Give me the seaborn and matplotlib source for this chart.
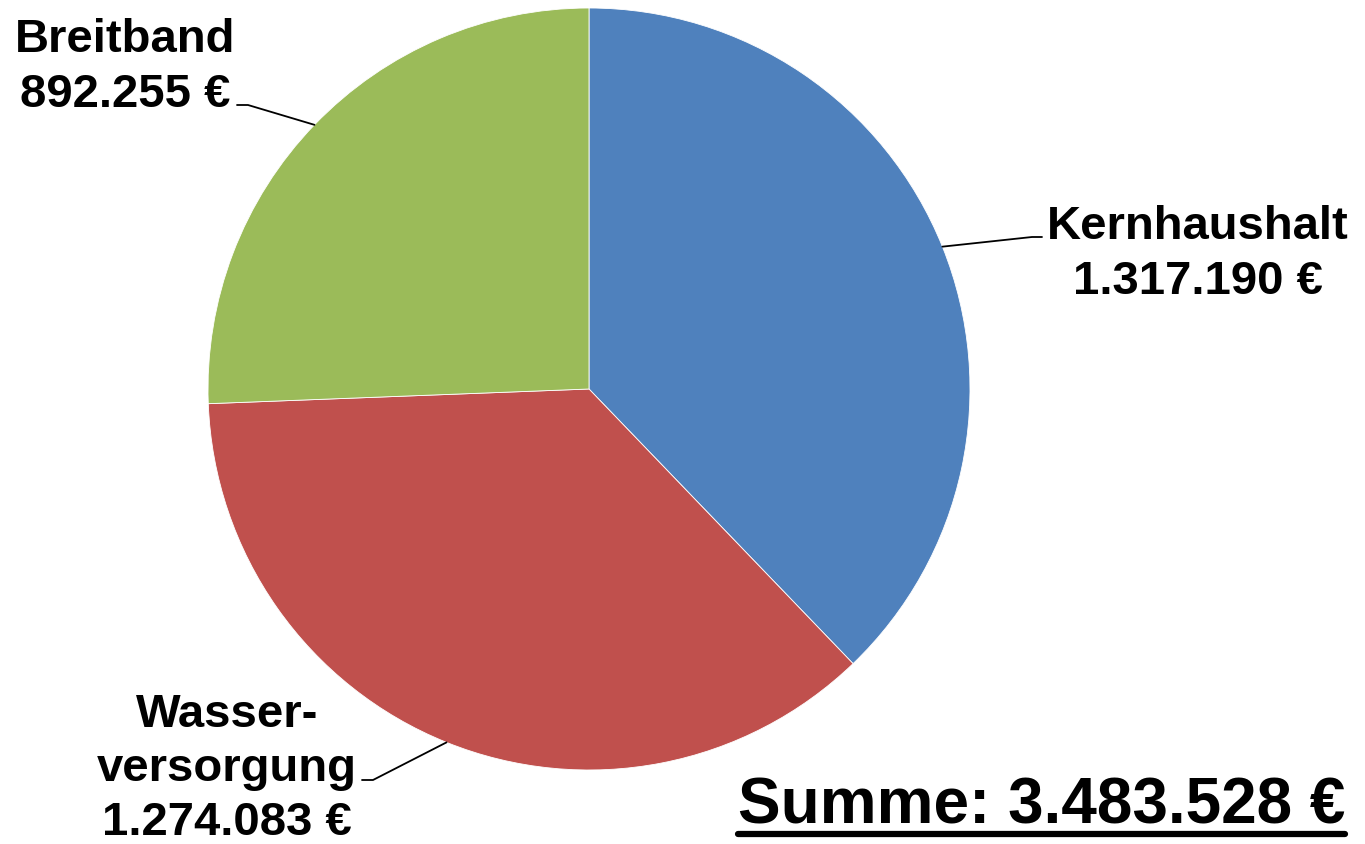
import numpy as np
import seaborn as sns
import matplotlib.pyplot as plt
from matplotlib.lines import Line2D

# Data
labels = ['Kernhaushalt', 'Wasser-\nversorgung', 'Breitband']
values = [1317190, 1274083, 892255]
colors = ['#4F81BD', '#C0504D', '#9BBB59']


def fmt_eur(v):
    return f"{v:,}".replace(",", ".") + " €"


sns.set_theme(style='white')
plt.rcParams['font.family'] = ['Liberation Sans', 'DejaVu Sans']

W, H = 1365, 845
fig = plt.figure(figsize=(W / 100, H / 100), dpi=100)


def px(x, y):
    # pixel coords (top-left origin) -> figure fraction
    return x / W, 1 - y / H


# pie occupies a 762 px square
ax = fig.add_axes([208 / W, (H - 771) / H, 762 / W, 762 / H])
wedges, _ = ax.pie(values, colors=colors, startangle=90, counterclock=False,
                   radius=1, wedgeprops=dict(edgecolor='white', linewidth=0.6))
ax.set_xlim(-1, 1)
ax.set_ylim(-1, 1)
ax.set_aspect('equal')
ax.axis('off')

# label positions (centre x, first baseline y, line gap) and leader line stub ends
label_pos = [(1198, 239, 55), (227, 727, 54), (125, 52, 55)]
stubs = [((1042, 238), (1032, 238)), ((362, 781), (373, 781)), ((237, 106), (248, 106))]

for w, name, v, (cx, by, gap), (s0, s1) in zip(wedges, labels, values, label_pos, stubs):
    lines = name.split('\n') + [fmt_eur(v)]
    for i, t in enumerate(lines):
        fx, fy = px(cx, by + i * gap)
        fig.text(fx, fy, t, ha='center', va='baseline', fontsize=34,
                 fontweight='bold', color='black')
    # leader line to wedge edge at mid angle
    ang = np.deg2rad((w.theta1 + w.theta2) / 2)
    edge = ax.transData.transform((np.cos(ang), np.sin(ang)))
    ex, ey = fig.transFigure.inverted().transform(edge)
    a = px(*s0)
    b = px(*s1)
    fig.add_artist(Line2D([a[0], b[0], ex], [a[1], b[1], ey],
                          transform=fig.transFigure, color='black', lw=1.3))

# total with underline
total = sum(values)
fx, fy = px(738, 824)
tt = fig.text(fx, fy, f"Summe: {fmt_eur(total)}", ha='left', va='baseline',
              fontsize=46, fontweight='bold', color='black')
renderer = fig.canvas.get_renderer()
bb = tt.get_window_extent(renderer=renderer)
uy = 1 - 835 / H
fig.add_artist(Line2D([bb.x0 / W, bb.x1 / W], [uy, uy], transform=fig.transFigure,
                      color='black', lw=4.5))

fig.savefig('out.png', dpi=100)
